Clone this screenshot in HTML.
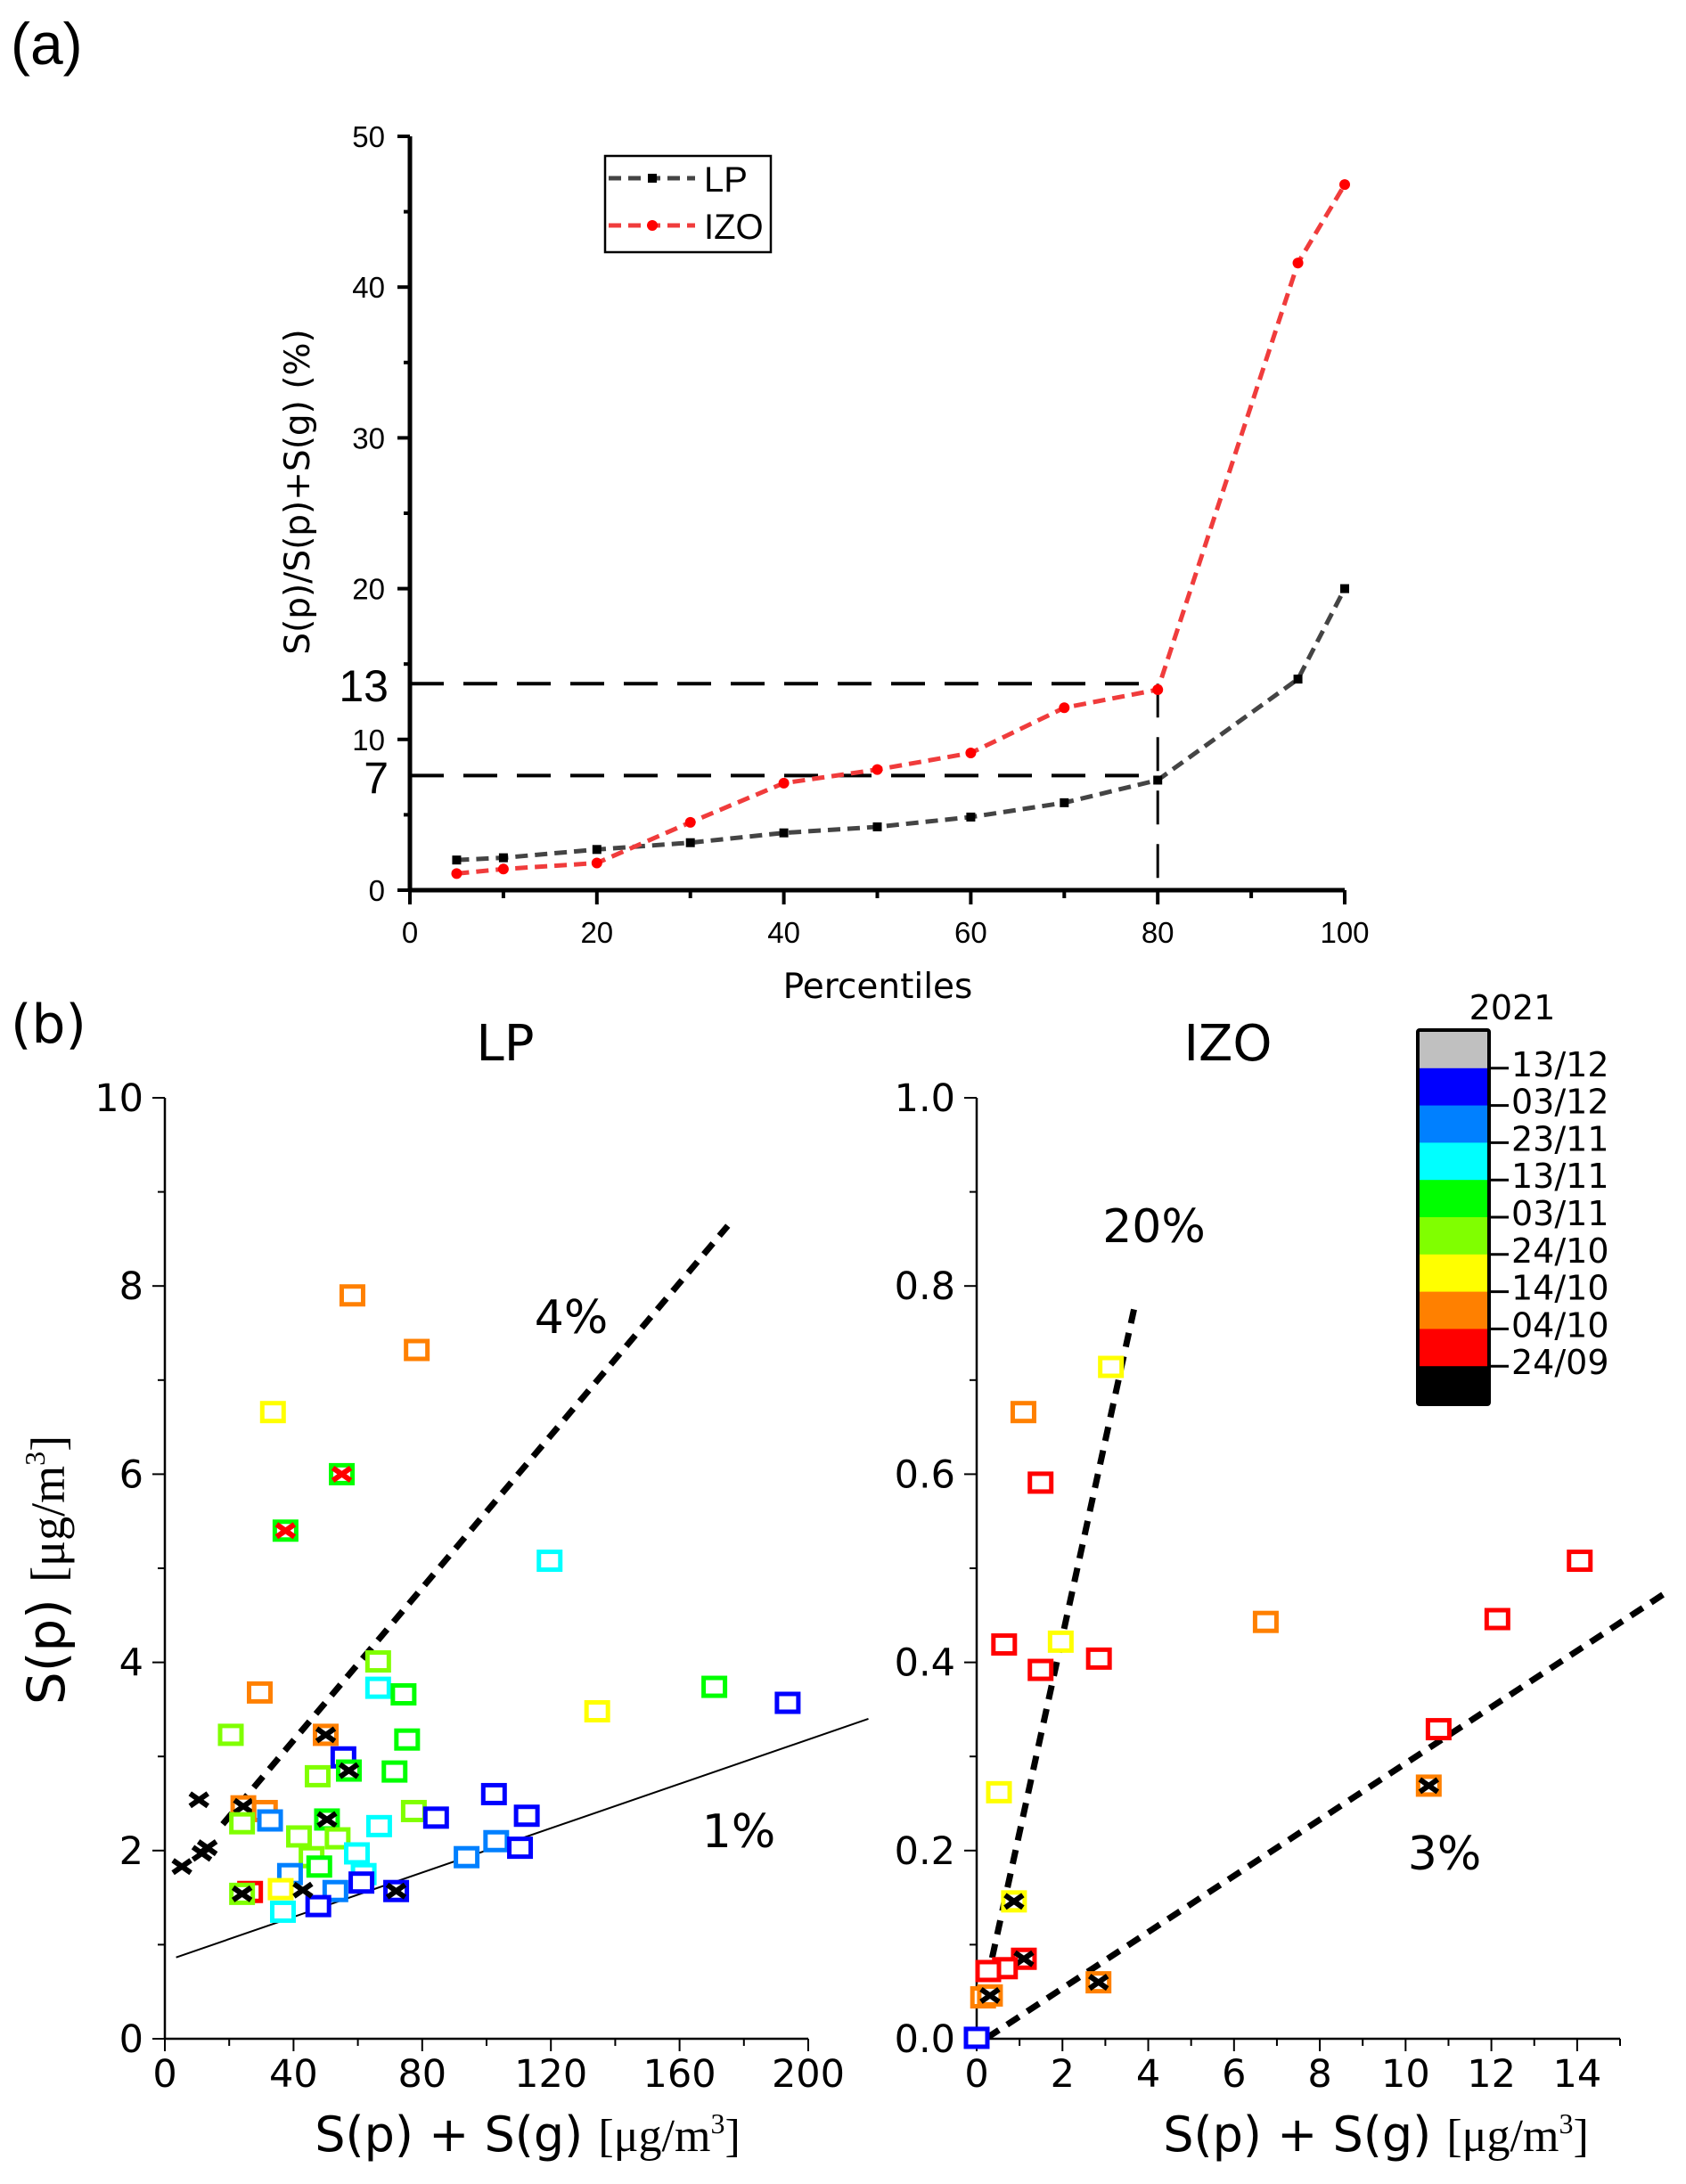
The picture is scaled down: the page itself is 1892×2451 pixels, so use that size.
<!DOCTYPE html>
<html><head><meta charset="utf-8">
<style>
html,body{margin:0;padding:0;background:#fff;}
svg{display:block;font-family:"DejaVu Sans","Liberation Sans",sans-serif;}
</style></head>
<body>
<svg id="fig" width="1892" height="2451" viewBox="0 0 1892 2451" xmlns="http://www.w3.org/2000/svg">
<text x="12" y="72" font-size="66" font-family="Liberation Sans, sans-serif">(a)</text>
<text x="12" y="1170" font-size="60" font-family="DejaVu Sans, sans-serif">(b)</text>
<g id="ga"></g>
<g id="glp"></g>
<g id="gizo"></g>
<g id="gcb"></g>
</svg>
<script>
const pctCats=[5,10,20,30,40,50,60,70,80,95,100];
const lpPct=[2.0,2.15,2.7,3.15,3.8,4.2,4.85,5.8,7.3,14.0,20.0];
const izoPct=[1.1,1.4,1.8,4.5,7.1,8.0,9.1,12.1,13.3,41.6,46.8];
const aXTicks=[0,20,40,60,80,100];
const aYTicks=[0,10,20,30,40,50];
const refLevels=[13.7,7.6];
const refLabels=['13','7'];

const cmap={k:'#000000',r:'#ff0000',o:'#ff8000',y:'#ffff00',lg:'#80ff00',g:'#00ff00',c:'#00ffff',az:'#0080ff',b:'#0000ff',gr:'#c0c0c0'};
const lpX=[58.3,78.3,33.6,55,37.5,119.6,66.3,66.3,74.2,29.5,134.4,170.8,193.6,20.5,50,55.5,57.2,47.5,75.3,71.4,77.4,66.6,84.3,102.3,112.5,103,110.4,93.8,24.4,31.1,24,32.7,50.4,41.7,53.7,45.6,48,59.7,61.8,38.9,53,61.1,47.7,36.7,36,26.5,24,71.9];
const lpY=[7.90,7.32,6.66,6.0,5.40,5.08,4.01,3.73,3.66,3.68,3.48,3.74,3.57,3.23,3.23,2.99,2.85,2.79,3.18,2.84,2.42,2.26,2.35,2.60,2.37,2.10,2.03,1.93,2.47,2.42,2.29,2.32,2.33,2.15,2.13,1.93,1.83,1.97,1.75,1.75,1.57,1.66,1.41,1.35,1.59,1.56,1.54,1.57];
const lpC=['o','o','y','g','g','c','lg','c','g','o','y','g','b','lg','o','b','g','lg','g','g','lg','c','b','b','b','az','b','az','o','o','lg','az','g','lg','lg','lg','g','c','c','az','az','b','b','c','y','r','lg','b'];
const lpK=['','','','r','r','','','','','','','','','','k','','k','','','','','','','','','','','','k','','','','k','','','','','','','','','','','','','','k','k'];
const lpXonlyX=[5.3,10.6,11.5,13.2,42.9];
const lpXonlyY=[1.83,2.54,1.97,2.03,1.58];
const izoX=[1.09,3.13,1.49,0.64,1.49,1.96,2.85,6.74,12.14,14.06,10.77,10.54,0.52,0.87,1.10,0.66,0.27,0.15,0.31,2.84,0];
const izoY=[0.666,0.714,0.591,0.419,0.392,0.422,0.404,0.443,0.446,0.508,0.329,0.269,0.262,0.146,0.085,0.075,0.072,0.044,0.046,0.060,0.001];
const izoC=['o','y','r','r','r','y','r','o','r','r','r','o','y','y','r','r','r','o','o','o','b'];
const izoK=['','','','','','','','','','','','k','','k','k','','','','k','k',''];
const cbLabels=['13/12','03/12','23/11','13/11','03/11','24/10','14/10','04/10','24/09'];
const cbColors=['gr','b','az','c','g','lg','y','o','r','k'];

const NS='http://www.w3.org/2000/svg';
function mk(p,tag,attrs,txt){const e=document.createElementNS(NS,tag);for(const k in attrs)e.setAttribute(k,attrs[k]);if(txt!==undefined)e.textContent=txt;p.appendChild(e);return e;}

(function(){
const g=document.getElementById('ga');
const X=v=>460+(v/100)*1049, Y=v=>999-(v/50)*846;
let e=mk(g,'line',{x1:X(0),y1:Y(0),x2:X(100),y2:Y(0),stroke:'#000','stroke-width':5});

e=mk(g,'line',{x1:X(0),y1:Y(0)+2,x2:X(0),y2:Y(50),stroke:'#000','stroke-width':5});

for(let v=0;v<=100;v+=10){const maj=v%20===0;
 e=mk(g,'line',{x1:X(v),y1:Y(0),x2:X(v),y2:Y(0)+(maj?16:9),stroke:'#000','stroke-width':4});
 }
aXTicks.forEach(v=>{e=mk(g,'text',{x:X(v),y:1058,'font-size':33,'text-anchor':'middle','font-family':'Liberation Sans, sans-serif'},String(v));
 });
for(let v=0;v<=50;v+=5){const maj=v%10===0;
 e=mk(g,'line',{x1:X(0),y1:Y(v),x2:X(0)-(maj?14:7),y2:Y(v),stroke:'#000','stroke-width':4});
 }
aYTicks.forEach(v=>{e=mk(g,'text',{x:432,y:Y(v)+12,'font-size':33,'text-anchor':'end','font-family':'Liberation Sans, sans-serif'},String(v));
 });
e=mk(g,'text',{x:0,y:0,'font-size':39,'text-anchor':'middle',transform:'translate(347,552) rotate(-90)'},'S(p)/S(p)+S(g) (%)');

e=mk(g,'text',{x:985,y:1120,'font-size':39,'text-anchor':'middle'},'Percentiles');

refLevels.forEach((v,i)=>{const l=refLabels[i];
 e=mk(g,'line',{x1:X(0),y1:Y(v),x2:X(80),y2:Y(v),stroke:'#000','stroke-width':4,'stroke-dasharray':'38,22'});
 
 e=mk(g,'text',{x:436,y:Y(v)+20,'font-size':50,'text-anchor':'end','font-family':'Liberation Sans, sans-serif'},l);
 });
e=mk(g,'line',{x1:X(80),y1:Y(refLevels[0]),x2:X(80),y2:Y(0),stroke:'#000','stroke-width':3,'stroke-dasharray':'38,22'});

function series(vals,col,name,sq){
 const pts=pctCats.map((c,i)=>X(c)+','+Y(vals[i])).join(' ');
 let l=mk(g,'polyline',{points:pts,fill:'none',stroke:col,'stroke-width':5,'stroke-dasharray':'14,8'});
 
 pctCats.forEach((c,i)=>{let m;
  if(sq)m=mk(g,'rect',{x:X(c)-5,y:Y(vals[i])-5,width:10,height:10,fill:'#000'});
  else m=mk(g,'circle',{cx:X(c),cy:Y(vals[i]),r:6,fill:'#f00'});
  });
}
series(lpPct,'#444','lp',true);
series(izoPct,'#f03c3c','izo',false);
e=mk(g,'rect',{x:679,y:175,width:186,height:108,fill:'#fff',stroke:'#000','stroke-width':2.5});

e=mk(g,'line',{x1:683,y1:200,x2:780,y2:200,stroke:'#444','stroke-width':5,'stroke-dasharray':'14,8'});

e=mk(g,'rect',{x:727,y:195,width:10,height:10,fill:'#000'});

e=mk(g,'text',{x:790,y:215,'font-size':40,'font-family':'Liberation Sans, sans-serif'},'LP');

e=mk(g,'line',{x1:683,y1:253,x2:780,y2:253,stroke:'#f03c3c','stroke-width':5,'stroke-dasharray':'14,8'});

e=mk(g,'circle',{cx:732,cy:253,r:6,fill:'#f00'});

e=mk(g,'text',{x:790,y:268,'font-size':40,'font-family':'Liberation Sans, sans-serif'},'IZO');

})();

function scatter(gid,opt){
 const g=document.getElementById(gid);
 const X=v=>opt.x0+(v-0)/opt.xmax*(opt.x1-opt.x0), Y=v=>2288-(v/opt.ymax)*1056;
 let e=mk(g,'line',{x1:opt.x0,y1:2288,x2:opt.x1,y2:2288,stroke:'#000','stroke-width':2.5});
 
 e=mk(g,'line',{x1:opt.x0,y1:2288,x2:opt.x0,y2:1232,stroke:'#000','stroke-width':2.5});
 
 for(let i=0;i<=opt.xmax/opt.xminor+1e-9;i++){const v=i*opt.xminor;const maj=i%2===0;
  e=mk(g,'line',{x1:X(v),y1:2288,x2:X(v),y2:2288+(maj?14:8),stroke:'#000','stroke-width':2});
  
  if(maj&&v<=opt.xlabmax){e=mk(g,'text',{x:X(v),y:2342,'font-size':43,'text-anchor':'middle'},String(Math.round(v)));
  }}
 for(let i=0;i<=10;i++){const v=i*opt.ymax/10;const maj=i%2===0;
  e=mk(g,'line',{x1:opt.x0,y1:Y(v),x2:opt.x0-(maj?14:8),y2:Y(v),stroke:'#000','stroke-width':2});
  
  if(maj){e=mk(g,'text',{x:opt.x0-24,y:Y(v)+15,'font-size':43,'text-anchor':'end'},opt.yfmt(v));
  }}
 opt.lines.forEach(L=>{e=mk(g,'line',{x1:X(L[0]),y1:Y(L[1]),x2:X(L[2]),y2:Y(L[3]),stroke:'#000','stroke-width':L[4],'stroke-dasharray':L[5]});
  });
 opt.xs.forEach((xv,i)=>{
  const px=X(xv),py=Y(opt.ys[i]);
  let s=mk(g,'rect',{x:px-12,y:py-10,width:24,height:20,fill:'#fff',stroke:cmap[opt.cs[i]],'stroke-width':5});
  
  if(opt.ks[i]){const kc=cmap[opt.ks[i]];
   let c=mk(g,'path',{d:`M${px-10},${py-7}L${px+10},${py+7}M${px-10},${py+7}L${px+10},${py-7}`,stroke:kc,'stroke-width':6});
   }
 });
 (opt.cx||[]).forEach((xv,i)=>{const px=X(xv),py=Y(opt.cy[i]);
   let c=mk(g,'path',{d:`M${px-10},${py-7}L${px+10},${py+7}M${px-10},${py+7}L${px+10},${py-7}`,stroke:'#000','stroke-width':6});
   });
 e=mk(g,'text',{x:opt.tx,y:1190,'font-size':56,'text-anchor':'middle'},opt.title);
 
 const t=mk(g,'text',{x:opt.xlx,y:2414,'font-size':54,'text-anchor':'middle'});
 
 t.innerHTML='S(p) + S(g) <tspan font-family="Liberation Serif, serif" font-size="52">[μg/m<tspan font-size="32" dy="-20">3</tspan><tspan dy="20">]</tspan></tspan>';
 opt.pct.forEach(p=>{e=mk(g,'text',{x:p[1],y:p[2],'font-size':52,'text-anchor':'middle'},p[0]);
  });
}
scatter('glp',{n:'lp',x0:185,x1:907,xmax:200,xminor:20,xlabmax:200,ymax:10,yfmt:v=>String(Math.round(v)),
 xs:lpX,ys:lpY,cs:lpC,ks:lpK,cx:lpXonlyX,cy:lpXonlyY,
 lines:[[18,2.28,175,8.64,7,'16,11'],[3.5,0.865,218.7,3.40,2,'none']],
 title:'LP',tx:567,xlx:592,pct:[['4%',641,1496],['1%',829,2073]]});
scatter('gizo',{n:'izo',x0:1096,x1:1818,xmax:15,xminor:1,xlabmax:14,ymax:1,yfmt:v=>v.toFixed(1),
 xs:izoX,ys:izoY,cs:izoC,ks:izoK,
 lines:[[0.12,0.036,3.71,0.784,7,'16,11'],[0.24,0.001,16.1,0.475,7,'16,11']],
 title:'IZO',tx:1378,xlx:1544,pct:[['20%',1295,1394],['3%',1621,2098]]});
(function(){const g=document.getElementById('glp');
 const t=mk(g,'text',{x:0,y:0,'font-size':58,'text-anchor':'middle',transform:'translate(72,1762) rotate(-90)'});
 
 t.innerHTML='S(p) <tspan font-family="Liberation Serif, serif" font-size="54">[μg/m<tspan font-size="32" dy="-22">3</tspan><tspan dy="22">]</tspan></tspan>';
})();
(function(){const g=document.getElementById('gcb');const h=41.8,y0=1157;
 cbColors.forEach((c,i)=>{let r=mk(g,'rect',{x:1592,y:y0+i*h,width:78,height:h+0.5,fill:cmap[c]});
  });
 let b=mk(g,'rect',{x:1591,y:1156,width:80,height:h*10+2,fill:'none',stroke:'#000','stroke-width':4,rx:2});
 
 cbLabels.forEach((l,i)=>{const y=y0+(i+1)*h;
  let t=mk(g,'line',{x1:1671,y1:y,x2:1693,y2:y,stroke:'#000','stroke-width':3});
  
  t=mk(g,'text',{x:1696,y:y+9,'font-size':38},l);
  });
 let t=mk(g,'text',{x:1697,y:1144,'font-size':38,'text-anchor':'middle'},'2021');
 
})();
</script>
</body></html>
